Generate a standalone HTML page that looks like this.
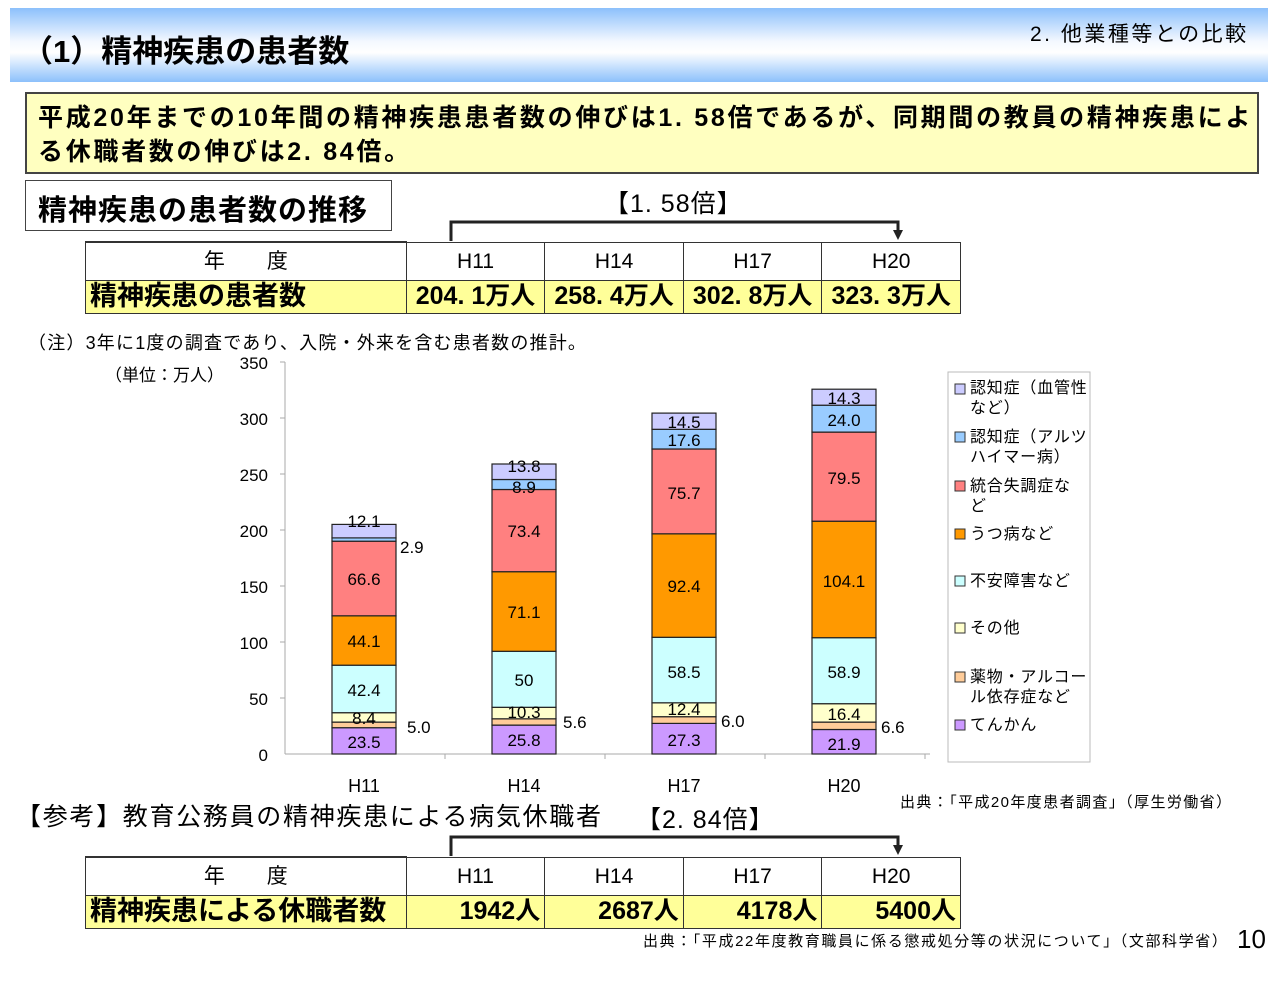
<!DOCTYPE html>
<html><head><meta charset="utf-8">
<style>
body{margin:0;width:1280px;height:998px;background:#fff;position:relative;overflow:hidden;font-family:"Liberation Sans","Noto Sans CJK JP",sans-serif;color:#000}
.a{position:absolute;white-space:nowrap}
.hdr{left:10px;top:8px;width:1258px;height:74px;background:linear-gradient(#8cc0fb 0%,#f4f8ff 45%,#ffffff 60%,#8cc0fb 100%)}
table{border-collapse:collapse;position:absolute}
td{border:1px solid #333;padding:0;text-align:center;line-height:1}
</style></head><body>
<div class="a hdr"></div>
<div class="a" style="left:22px;top:26px;font-size:31px;font-weight:bold;">（1）精神疾患の患者数</div>
<div class="a" style="left:1030px;top:18px;font-size:21px;letter-spacing:2.5px;">2. 他業種等との比較</div>

<div class="a" style="left:25px;top:92px;width:1230px;height:78px;background:#ffffc0;border:2px solid #444;"></div>
<div class="a" style="left:38px;top:101px;font-size:25px;font-weight:bold;line-height:34px;letter-spacing:2.7px;">平成20年までの10年間の精神疾患患者数の伸びは1. 58倍であるが、同期間の教員の精神疾患によ<br>る休職者数の伸びは2. 84倍。</div>

<div class="a" style="left:25px;top:180px;width:365px;height:49px;border:1.5px solid #444;background:#fff;"></div>
<div class="a" style="left:38px;top:187px;font-size:29px;font-weight:bold;letter-spacing:1px;">精神疾患の患者数の推移</div>
<div class="a" style="left:604px;top:184px;font-size:25px;letter-spacing:1px;">【1. 58倍】</div>

<svg class="a" style="left:0;top:0" width="1280" height="998">
 <polyline points="451,241 451,222 898,222 898,232" fill="none" stroke="#222" stroke-width="3"/>
 <polygon points="893,230 903,230 898,240" fill="#222"/>
 <polyline points="451,856 451,837 898,837 898,846" fill="none" stroke="#222" stroke-width="3"/>
 <polygon points="893,845 903,845 898,855" fill="#222"/>
</svg>

<table style="left:85px;top:241px;width:876px;">
<tr style="height:38px;font-size:21px"><td style="width:321px;border-top:2px solid #333">年　　度</td><td style="width:138px">H11</td><td style="width:138px">H14</td><td style="width:138px">H17</td><td style="width:138px">H20</td></tr>
<tr style="height:33px;background:#ffff99;font-size:25px;font-weight:bold"><td style="text-align:left;padding-left:4px;font-size:27px">精神疾患の患者数</td><td>204. 1万人</td><td>258. 4万人</td><td>302. 8万人</td><td>323. 3万人</td></tr>
</table>

<div class="a" style="left:28px;top:329px;font-size:18px;letter-spacing:1.2px;">（注）3年に1度の調査であり、入院・外来を含む患者数の推計。</div>
<div class="a" style="left:105px;top:361px;font-size:17px;">（単位：万人）</div>

<svg class="a" style="left:0;top:0" width="1280" height="998" font-family="Liberation Sans, sans-serif">
 <g stroke="#aaa" stroke-width="1">
  <line x1="285" y1="362" x2="285" y2="754"/><line x1="285" y1="754" x2="930" y2="754"/>
  <line x1="280" y1="362" x2="285" y2="362"/><line x1="280" y1="418" x2="285" y2="418"/><line x1="280" y1="474" x2="285" y2="474"/><line x1="280" y1="530" x2="285" y2="530"/><line x1="280" y1="586" x2="285" y2="586"/><line x1="280" y1="642" x2="285" y2="642"/><line x1="280" y1="698" x2="285" y2="698"/>
  <line x1="445" y1="754" x2="445" y2="759"/><line x1="605" y1="754" x2="605" y2="759"/><line x1="765" y1="754" x2="765" y2="759"/><line x1="925" y1="754" x2="925" y2="759"/>
 </g>
 <g font-size="17" text-anchor="end">
  <text x="268" y="369">350</text><text x="268" y="425">300</text><text x="268" y="481">250</text><text x="268" y="537">200</text><text x="268" y="593">150</text><text x="268" y="649">100</text><text x="268" y="705">50</text><text x="268" y="761">0</text>
 </g>
 <g font-size="18" text-anchor="middle">
  <text x="364" y="792">H11</text><text x="524" y="792">H14</text><text x="684" y="792">H17</text><text x="844" y="792">H20</text>
 </g>
 <g stroke="#222" stroke-width="1.2">
  <rect x="332" y="727.7" width="64" height="26.3" fill="#cc99ff"/>
  <rect x="332" y="722.1" width="64" height="5.6" fill="#ffcc99"/>
  <rect x="332" y="712.7" width="64" height="9.4" fill="#ffffcc"/>
  <rect x="332" y="665.2" width="64" height="47.5" fill="#ccffff"/>
  <rect x="332" y="615.8" width="64" height="49.4" fill="#ff9900"/>
  <rect x="332" y="541.2" width="64" height="74.6" fill="#ff8080"/>
  <rect x="332" y="537.9" width="64" height="3.3" fill="#99ccff"/>
  <rect x="332" y="524.4" width="64" height="13.5" fill="#ccccff"/>
  <rect x="492" y="725.1" width="64" height="28.9" fill="#cc99ff"/>
  <rect x="492" y="718.8" width="64" height="6.3" fill="#ffcc99"/>
  <rect x="492" y="707.3" width="64" height="11.5" fill="#ffffcc"/>
  <rect x="492" y="651.3" width="64" height="56" fill="#ccffff"/>
  <rect x="492" y="571.7" width="64" height="79.6" fill="#ff9900"/>
  <rect x="492" y="489.5" width="64" height="82.2" fill="#ff8080"/>
  <rect x="492" y="479.5" width="64" height="10" fill="#99ccff"/>
  <rect x="492" y="464" width="64" height="15.5" fill="#ccccff"/>
  <rect x="652" y="723.4" width="64" height="30.6" fill="#cc99ff"/>
  <rect x="652" y="716.7" width="64" height="6.7" fill="#ffcc99"/>
  <rect x="652" y="702.8" width="64" height="13.9" fill="#ffffcc"/>
  <rect x="652" y="637.3" width="64" height="65.5" fill="#ccffff"/>
  <rect x="652" y="533.8" width="64" height="103.5" fill="#ff9900"/>
  <rect x="652" y="449" width="64" height="84.8" fill="#ff8080"/>
  <rect x="652" y="429.3" width="64" height="19.7" fill="#99ccff"/>
  <rect x="652" y="413.1" width="64" height="16.2" fill="#ccccff"/>
  <rect x="812" y="729.5" width="64" height="24.5" fill="#cc99ff"/>
  <rect x="812" y="722.1" width="64" height="7.4" fill="#ffcc99"/>
  <rect x="812" y="703.7" width="64" height="18.4" fill="#ffffcc"/>
  <rect x="812" y="637.7" width="64" height="66" fill="#ccffff"/>
  <rect x="812" y="521.2" width="64" height="116.5" fill="#ff9900"/>
  <rect x="812" y="432.1" width="64" height="89.1" fill="#ff8080"/>
  <rect x="812" y="405.2" width="64" height="26.9" fill="#99ccff"/>
  <rect x="812" y="389.2" width="64" height="16" fill="#ccccff"/>
 </g>
 <g font-size="17" text-anchor="middle">
  <text x="364" y="748">23.5</text><text x="364" y="724">8.4</text><text x="364" y="696">42.4</text><text x="364" y="647">44.1</text><text x="364" y="585">66.6</text><text x="364" y="527">12.1</text>
  <text x="524" y="746">25.8</text><text x="524" y="718">10.3</text><text x="524" y="686">50</text><text x="524" y="618">71.1</text><text x="524" y="537">73.4</text><text x="524" y="493">8.9</text><text x="524" y="472">13.8</text>
  <text x="684" y="746">27.3</text><text x="684" y="715">12.4</text><text x="684" y="678">58.5</text><text x="684" y="592">92.4</text><text x="684" y="499">75.7</text><text x="684" y="446">17.6</text><text x="684" y="428">14.5</text>
  <text x="844" y="750">21.9</text><text x="844" y="720">16.4</text><text x="844" y="678">58.9</text><text x="844" y="587">104.1</text><text x="844" y="484">79.5</text><text x="844" y="426">24.0</text><text x="844" y="404">14.3</text>
 </g>
 <g font-size="17">
  <text x="400" y="553">2.9</text><text x="407" y="733">5.0</text><text x="563" y="728">5.6</text><text x="721" y="727">6.0</text><text x="881" y="733">6.6</text>
 </g>
 <rect x="948" y="372" width="142" height="390" fill="#fff" stroke="#bbb"/>
 <g stroke="#333" stroke-width="1">
  <rect x="955" y="384" width="10" height="10" fill="#ccccff"/>
  <rect x="955" y="432" width="10" height="10" fill="#99ccff"/>
  <rect x="955" y="481" width="10" height="10" fill="#ff8080"/>
  <rect x="955" y="529" width="10" height="10" fill="#ff9900"/>
  <rect x="955" y="576" width="10" height="10" fill="#ccffff"/>
  <rect x="955" y="623" width="10" height="10" fill="#ffffcc"/>
  <rect x="955" y="672" width="10" height="10" fill="#ffcc99"/>
  <rect x="955" y="720" width="10" height="10" fill="#cc99ff"/>
 </g>
</svg>
<div class="a" style="left:970px;top:379px;font-size:16px;line-height:20px;letter-spacing:0.8px;">認知症（血管性<br>など）</div>
<div class="a" style="left:970px;top:428px;font-size:16px;line-height:20px;letter-spacing:0.8px;">認知症（アルツ<br>ハイマー病）</div>
<div class="a" style="left:970px;top:477px;font-size:16px;line-height:20px;letter-spacing:0.8px;">統合失調症な<br>ど</div>
<div class="a" style="left:970px;top:525px;font-size:16px;line-height:20px;letter-spacing:0.8px;">うつ病など</div>
<div class="a" style="left:970px;top:572px;font-size:16px;line-height:20px;letter-spacing:0.8px;">不安障害など</div>
<div class="a" style="left:970px;top:619px;font-size:16px;line-height:20px;letter-spacing:0.8px;">その他</div>
<div class="a" style="left:970px;top:668px;font-size:16px;line-height:20px;letter-spacing:0.8px;">薬物・アルコー<br>ル依存症など</div>
<div class="a" style="left:970px;top:716px;font-size:16px;line-height:20px;letter-spacing:0.8px;">てんかん</div>

<div class="a" style="left:900px;top:791px;font-size:15px;letter-spacing:1.4px;">出典：「平成20年度患者調査」（厚生労働省）</div>
<div class="a" style="left:16px;top:797px;font-size:25px;letter-spacing:1.7px;">【参考】教育公務員の精神疾患による病気休職者</div>
<div class="a" style="left:636px;top:800px;font-size:25px;letter-spacing:1px;">【2. 84倍】</div>

<table style="left:85px;top:856px;width:876px;">
<tr style="height:38px;font-size:21px"><td style="width:321px;border-top:2px solid #333">年　　度</td><td style="width:138px">H11</td><td style="width:138px">H14</td><td style="width:138px">H17</td><td style="width:138px">H20</td></tr>
<tr style="height:33px;background:#ffff99;font-size:25px;font-weight:bold"><td style="text-align:left;padding-left:4px;font-size:27px">精神疾患による休職者数</td><td style="text-align:right;padding-right:4px">1942人</td><td style="text-align:right;padding-right:4px">2687人</td><td style="text-align:right;padding-right:4px">4178人</td><td style="text-align:right;padding-right:4px">5400人</td></tr>
</table>
<div class="a" style="left:643px;top:930px;font-size:15px;letter-spacing:1.6px;">出典：「平成22年度教育職員に係る懲戒処分等の状況について」（文部科学省）</div>
<div class="a" style="left:1237px;top:924px;font-size:26px;">10</div>
</body></html>
